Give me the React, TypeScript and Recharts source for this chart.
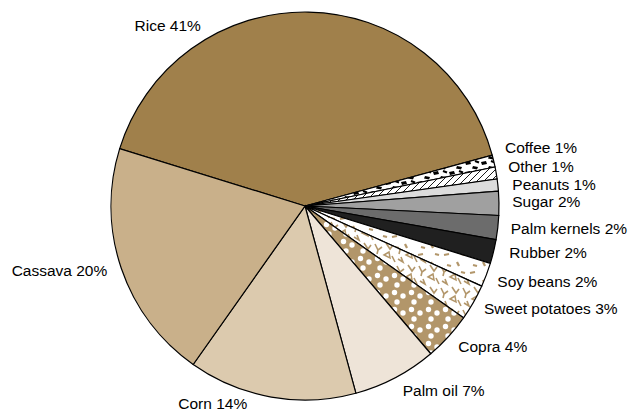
import React from "react";
import { PieChart, Pie, Cell } from "recharts";

const crops = [
  "Rice", "Coffee", "Other", "Peanuts", "Sugar", "Palm kernels", "Rubber",
  "Soy beans", "Sweet potatoes", "Copra", "Palm oil", "Corn", "Cassava",
];
const shares = [41, 1, 1, 1, 2, 2, 2, 2, 3, 4, 7, 14, 20];

const data = crops.map((name, i) => ({ name, value: shares[i] }));

const fills = [
  "#a0804b",
  "url(#patCoffee)",
  "url(#patOther)",
  "#dcdcdc",
  "#a0a0a0",
  "#6c6c6c",
  "#202020",
  "url(#patSoy)",
  "url(#patSweet)",
  "url(#patCopra)",
  "#eee4d8",
  "#dccaae",
  "#c9b08a",
];

// label layout: [dx, dy, anchor] relative to the radial point just outside the rim
const labelNudge: [number, number, "start" | "middle" | "end"][] = [
  [-140.8, 21.8, "middle"],
  [3.5, -11.9, "start"],
  [4.2, -5.6, "start"],
  [6.5, 0.1, "start"],
  [5.3, -1.2, "start"],
  [5.0, -0.2, "start"],
  [8.0, -0.8, "start"],
  [3.5, 4.0, "start"],
  [3.7, 1.9, "start"],
  [4.1, 4.5, "start"],
  [3.5, 6.0, "start"],
  [-57.2, -1.2, "middle"],
  [-6.5, -0.4, "end"],
];

const RAD = Math.PI / 180;
const TAN = "#b2966a";

const renderLabel = (p: any) => {
  const { cx, cy, midAngle, outerRadius, index, name, value } = p;
  const r = outerRadius + 8;
  const x = cx + r * Math.cos(-midAngle * RAD);
  const y = cy + r * Math.sin(-midAngle * RAD);
  const [dx, dy, anchor] = labelNudge[index];
  return (
    <text
      x={x + dx}
      y={y + dy}
      textAnchor={anchor}
      dominantBaseline="central"
      fill="#000"
      fontSize={15.5}
      fontFamily="'Liberation Sans', Arial, sans-serif"
    >
      {`${name} ${value}%`}
    </text>
  );
};

export default function App() {
  return (
    <div style={{ position: "absolute", left: 0, top: 0, width: 630, height: 413, background: "#fff" }}>
      <PieChart width={630} height={413} margin={{ top: 0, right: 0, bottom: 0, left: 0 }}>
        <defs>
          <pattern id="patCoffee" width="16" height="10" patternUnits="userSpaceOnUse">
            <rect width="16" height="10" fill="#fff" />
            <path d="M1 2 L6 1 L7 4 L2 5 Z" fill="#000" />
            <path d="M9 6 L14 7 L13 9.5 L8 8.5 Z" fill="#000" />
            <path d="M11 1 L15 2.5" stroke="#000" strokeWidth="2" />
          </pattern>
          <pattern id="patOther" width="7" height="7" patternUnits="userSpaceOnUse">
            <rect width="7" height="7" fill="#fff" />
            <path d="M0 7 L7 0 M-1 1 L1 -1 M6 8 L8 6" stroke="#000" strokeWidth="0.9" />
          </pattern>
          <pattern id="patSoy" width="26" height="18" patternUnits="userSpaceOnUse">
            <rect width="26" height="18" fill="#fff" />
            <path d="M2 3 L7 2" stroke={TAN} strokeWidth="2.2" />
            <path d="M15 10 L17 14" stroke={TAN} strokeWidth="2.2" />
            <path d="M19 2 L23 3" stroke={TAN} strokeWidth="2.2" />
            <path d="M5 13 L9 14" stroke={TAN} strokeWidth="2.2" />
          </pattern>
          <pattern id="patSweet" width="22" height="22" patternUnits="userSpaceOnUse">
            <rect width="22" height="22" fill="#fff" />
            <path d="M1 2 L4 8 L8 5 M4 8 L3 12" stroke={TAN} strokeWidth="1.6" fill="none" />
            <path d="M12 1 L16 7 L19 3" stroke={TAN} strokeWidth="1.6" fill="none" />
            <path d="M10 13 L15 10 L16 16 Z" stroke={TAN} strokeWidth="1.5" fill="none" />
            <path d="M18 14 L21 20 M2 17 L7 20 L5 15" stroke={TAN} strokeWidth="1.6" fill="none" />
          </pattern>
          <pattern id="patCopra" width="17" height="17" patternUnits="userSpaceOnUse">
            <rect width="17" height="17" fill={TAN} />
            <circle cx="3.5" cy="3.5" r="2.7" fill="#fff" />
            <circle cx="12" cy="7" r="2.7" fill="#fff" />
            <circle cx="6" cy="13" r="2.7" fill="#fff" />
          </pattern>
        </defs>
        <Pie
          data={data}
          dataKey="value"
          nameKey="name"
          cx={305}
          cy={206}
          outerRadius={194}
          startAngle={162.8}
          endAngle={162.8 - 360}
          stroke="#000"
          strokeWidth={1.2}
          label={renderLabel}
          labelLine={false}
          isAnimationActive={false}
        >
          {data.map((d, i) => (
            <Cell key={d.name} fill={fills[i]} />
          ))}
        </Pie>
      </PieChart>
    </div>
  );
}
